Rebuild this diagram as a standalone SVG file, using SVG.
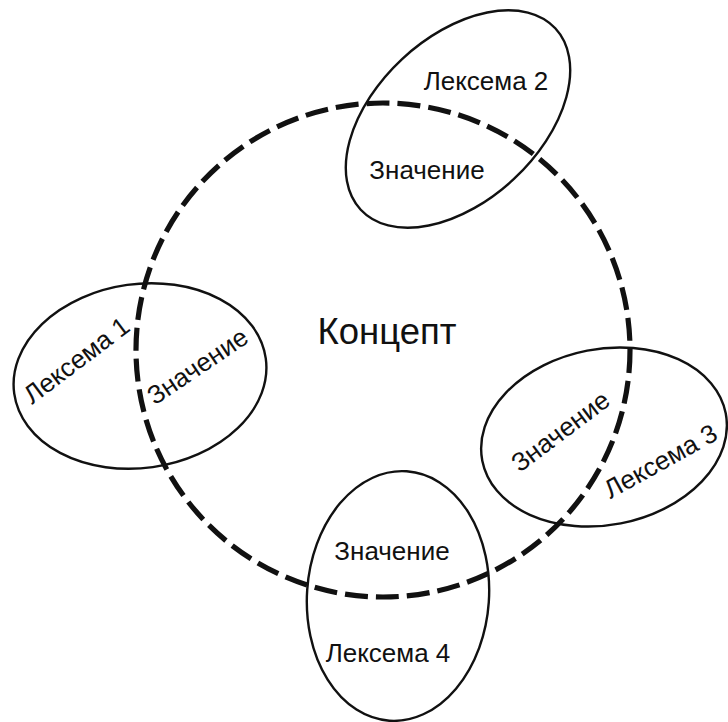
<svg xmlns="http://www.w3.org/2000/svg" width="728" height="722" viewBox="0 0 728 722">
<style>
.bg{fill:#ffffff}
.lex{fill:none;stroke:#111111;stroke-width:2.4}
.concept{fill:none;stroke:#111111;stroke-width:5.2;stroke-dasharray:23 8}
text{font-family:"Liberation Sans",Arial,sans-serif;fill:#111111;text-anchor:middle}
.t{font-size:26px}
.big{font-size:36.5px}
</style>
<rect class="bg" x="0" y="0" width="728" height="722"/>
<g id="lexeme2">
<ellipse class="lex" cx="458" cy="119" rx="133" ry="82" transform="rotate(-43 458 119)"/>
<text class="t" x="486" y="90">Лексема 2</text>
<text class="t" x="427" y="179">Значение</text>
</g>
<g id="lexeme1">
<ellipse class="lex" cx="140" cy="376" rx="127" ry="92" transform="rotate(-8 140 376)"/>
<text class="t" transform="translate(77 361) rotate(-37)" x="0" y="8">Лексема 1</text>
<text class="t" transform="translate(198 367) rotate(-34)" x="0" y="8">Значение</text>
</g>
<g id="lexeme3">
<ellipse class="lex" cx="604" cy="437" rx="124" ry="88" transform="rotate(-11 604 437)"/>
<text class="t" transform="translate(561 432) rotate(-37)" x="0" y="8">Значение</text>
<text class="t" transform="translate(661 462) rotate(-29)" x="0" y="8">Лексема 3</text>
</g>
<g id="lexeme4">
<ellipse class="lex" cx="398" cy="596" rx="91" ry="125" transform="rotate(4 398 596)"/>
<text class="t" x="392" y="560">Значение</text>
<text class="t" x="388" y="662">Лексема 4</text>
</g>
<g id="concept">
<circle class="concept" cx="383" cy="350" r="247"/>
<text class="big" x="387" y="344">Концепт</text>
</g>
<g id="connectors"></g>
</svg>
